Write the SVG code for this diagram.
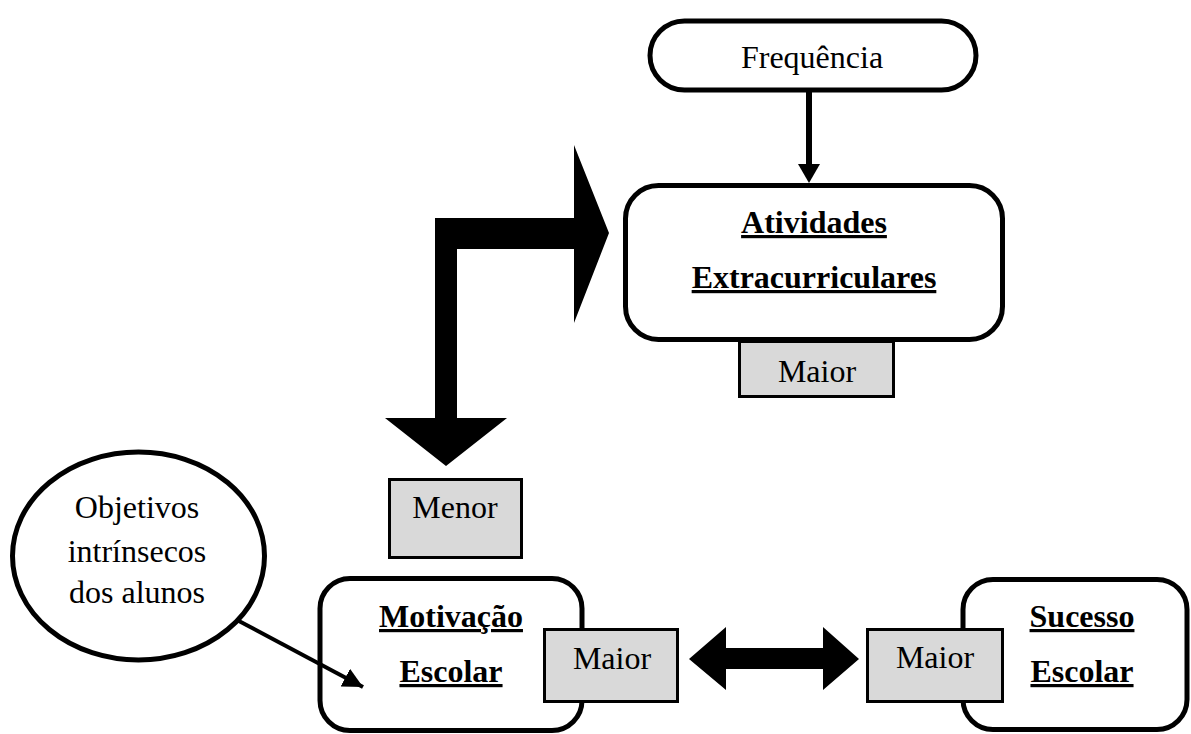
<svg xmlns="http://www.w3.org/2000/svg" width="1191" height="734" viewBox="0 0 1191 734">
  <style>
    .box { fill: #ffffff; stroke: #000000; stroke-width: 5; }
    .tag { fill: #d9d9d9; stroke: #000000; stroke-width: 3; }
    .txt { font-family: "Liberation Serif", "Times New Roman", serif; font-size: 32px; fill: #000000; text-anchor: middle; }
    .hd { font-family: "Liberation Serif", "Times New Roman", serif; font-size: 32px; font-weight: bold; fill: #000000; text-anchor: middle; text-decoration: underline; }
    .solid { fill: #000000; stroke: none; }
    .line { stroke: #000000; fill: none; }
  </style>
  <defs>
    <marker id="tri" viewBox="0 0 10 10" refX="10" refY="5" markerWidth="5" markerHeight="5" markerUnits="strokeWidth" orient="auto">
      <path d="M0,0 L10,5 L0,10 Z" fill="#000000"/>
    </marker>
  </defs>

  <rect width="1191" height="734" fill="#ffffff"/>

  <g id="frequencia">
    <rect class="box" x="650" y="21" width="326" height="69" rx="34.5"/>
    <text class="txt" x="812" y="68">Frequência</text>
  </g>

  <g id="atividades">
    <rect class="box" x="625.5" y="185.5" width="377" height="154" rx="33"/>
    <text class="hd" x="814" y="233">Atividades</text>
    <text class="hd" x="814" y="288">Extracurriculares</text>
  </g>

  <g id="maior-atividades">
    <rect class="tag" x="739.5" y="341.5" width="154" height="55"/>
    <text class="txt" x="817" y="382">Maior</text>
  </g>

  <g id="menor">
    <rect class="tag" x="389.5" y="479.5" width="132" height="78"/>
    <text class="txt" x="455" y="518">Menor</text>
  </g>

  <g id="objetivos">
    <ellipse class="box" cx="138.5" cy="556" rx="126" ry="104"/>
    <text class="txt" x="137" y="518">Objetivos</text>
    <text class="txt" x="137" y="562">intrínsecos</text>
    <text class="txt" x="137" y="603">dos alunos</text>
  </g>

  <g id="motivacao">
    <rect class="box" x="320" y="578.5" width="262" height="152" rx="30"/>
    <text class="hd" x="451" y="627">Motivação</text>
    <text class="hd" x="451" y="682">Escolar</text>
  </g>

  <g id="maior-motivacao">
    <rect class="tag" x="544.5" y="629.5" width="133" height="72"/>
    <text class="txt" x="612" y="669">Maior</text>
  </g>

  <g id="sucesso">
    <rect class="box" x="963" y="579.5" width="224" height="150" rx="30"/>
    <text class="hd" x="1082" y="627">Sucesso</text>
    <text class="hd" x="1082" y="682">Escolar</text>
  </g>

  <g id="maior-sucesso">
    <rect class="tag" x="867.5" y="629.5" width="135" height="72"/>
    <text class="txt" x="935" y="668">Maior</text>
  </g>

  <!-- connectors, drawn above the boxes -->
  <g id="connectors">
    <!-- Frequência -> Atividades -->
    <line class="line" x1="809" y1="91" x2="809" y2="166" stroke-width="6"/>
    <polygon class="solid" points="798,164 820,164 809,183"/>
    <!-- bent block arrow between Menor and Atividades -->
    <polygon class="solid" points="446,466 507,418 457,418 457,249 574,249 574,323 609,233 574,145 574,218 435,218 435,418 385,418"/>
    <!-- double arrow Motivação <-> Sucesso -->
    <polygon class="solid" points="689,659 726,627 726,648 823,648 823,627 859,659 823,690 823,669 726,669 726,690"/>
    <!-- objetivos -> motivação -->
    <line class="line" x1="237" y1="620" x2="363" y2="687" stroke-width="4" marker-end="url(#tri)"/>
  </g>
</svg>
